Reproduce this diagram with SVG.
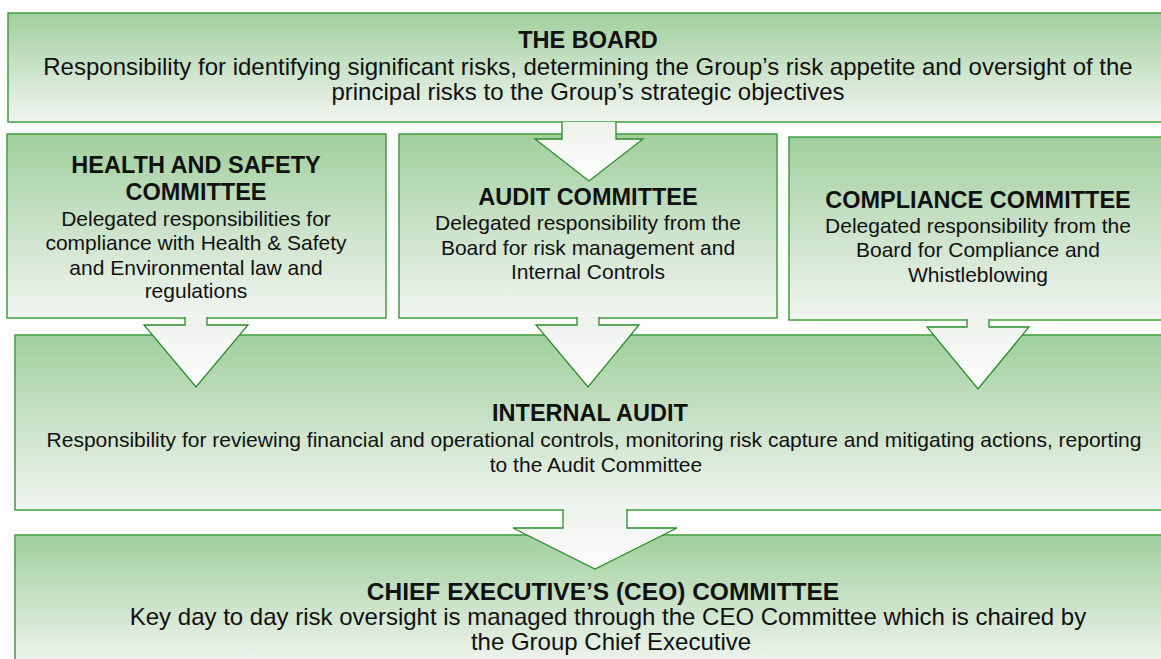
<svg xmlns="http://www.w3.org/2000/svg" width="1161" height="659" viewBox="0 0 1161 659">
<defs>
<linearGradient id="boxGrad" x1="0" y1="0" x2="0" y2="1">
<stop offset="0" stop-color="#a0cf9d"/>
<stop offset="0.45" stop-color="#c6e0c4"/>
<stop offset="1" stop-color="#f1f5f0"/>
</linearGradient>
<linearGradient id="arrowGrad" x1="0" y1="0" x2="0" y2="1">
<stop offset="0" stop-color="#edf2ec"/>
<stop offset="1" stop-color="#ffffff"/>
</linearGradient>
<style>
.box{fill:url(#boxGrad);stroke:#3f9f3f;stroke-width:1.5}
.arrow{fill:url(#arrowGrad);stroke:#2a8c2a;stroke-width:1.3;stroke-linejoin:miter}
.t{font-family:"Liberation Sans",Arial,sans-serif;font-size:23.5px;font-weight:bold;fill:#111;text-anchor:middle}
.b{font-family:"Liberation Sans",Arial,sans-serif;font-size:21px;fill:#111;text-anchor:middle}
.bl{font-family:"Liberation Sans",Arial,sans-serif;font-size:24px;fill:#111;text-anchor:middle}
</style>
</defs>
<rect width="1161" height="659" fill="#ffffff"/>

<g id="board">
<rect class="box" x="8" y="13" width="1162" height="109"/>
<text class="t" x="588" y="48">THE BOARD</text>
<text class="bl" x="588" y="74.5">Responsibility for identifying significant risks, determining the Group’s risk appetite and oversight of the</text>
<text class="bl" x="588" y="100">principal risks to the Group’s strategic objectives</text>
</g>

<g id="health-safety">
<rect class="box" x="7" y="134" width="379" height="184"/>
<text class="t" x="196" y="173">HEALTH AND SAFETY</text>
<text class="t" x="196" y="200">COMMITTEE</text>
<text class="b" x="196" y="226">Delegated responsibilities for</text>
<text class="b" x="196" y="250">compliance with Health &amp; Safety</text>
<text class="b" x="196" y="275">and Environmental law and</text>
<text class="b" x="196" y="298">regulations</text>
</g>

<g id="audit-committee">
<rect class="box" x="399" y="134" width="378" height="184"/>
<text class="t" x="588" y="205">AUDIT COMMITTEE</text>
<text class="b" x="588" y="230">Delegated responsibility from the</text>
<text class="b" x="588" y="255">Board for risk management and</text>
<text class="b" x="588" y="279">Internal Controls</text>
</g>

<g id="compliance-committee">
<rect class="box" x="789" y="137" width="378" height="183"/>
<text class="t" x="978" y="208">COMPLIANCE COMMITTEE</text>
<text class="b" x="978" y="233">Delegated responsibility from the</text>
<text class="b" x="978" y="257">Board for Compliance and</text>
<text class="b" x="978" y="282">Whistleblowing</text>
</g>

<g id="internal-audit">
<rect class="box" x="15" y="335" width="1160" height="175"/>
<text class="t" x="590" y="421">INTERNAL AUDIT</text>
<text class="b" x="594" y="447">Responsibility for reviewing financial and operational controls, monitoring risk capture and mitigating actions, reporting</text>
<text class="b" x="596" y="472">to the Audit Committee</text>
</g>

<g id="ceo-committee">
<rect class="box" x="15" y="535" width="1160" height="133"/>
<text class="t" x="603" y="600" style="font-size:24.5px">CHIEF EXECUTIVE’S (CEO) COMMITTEE</text>
<text class="bl" x="608" y="625">Key day to day risk oversight is managed through the CEO Committee which is chaired by</text>
<text class="bl" x="611" y="650">the Group Chief Executive</text>
</g>

<g id="connectors">
<path class="arrow" d="M562,122 V139 H535 L589,181 L643,139 H616 V122"/>
<path class="arrow" d="M185,317 V325 H144 L196,387 L248,325 H207 V317"/>
<path class="arrow" d="M577,317 V325 H536 L588,387 L639,325 H599 V317"/>
<path class="arrow" d="M967,319 V327 H927 L978,389 L1029,327 H989 V319"/>
<path class="arrow" d="M563,509 V528 H513 L595,569 L677,528 H627 V509"/>
</g>
</svg>
